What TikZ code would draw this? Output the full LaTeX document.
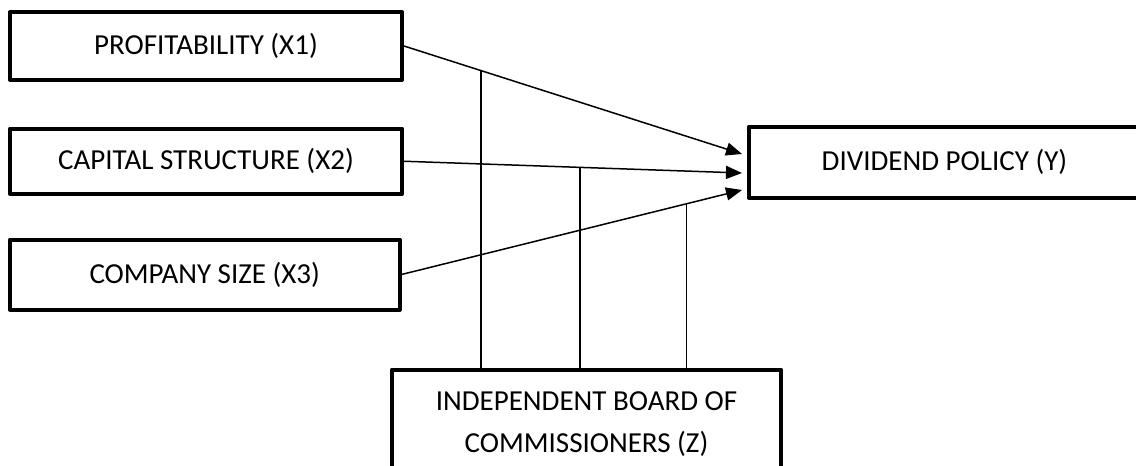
\documentclass[tikz,border=0pt]{standalone}
\usepackage{fontspec}
\setmainfont{Carlito}
\usetikzlibrary{arrows.meta}
\begin{document}
\begin{tikzpicture}[x=1pt,y=-1pt,line join=round,
	box/.style={draw,line width=4pt,inner sep=0pt,align=center,font=\fontsize{29}{42}\selectfont},
	link/.style={line width=1.5pt},
	arr/.style={link,-{Triangle[length=16pt,width=13pt]}}]
		%==Khung hình
		\clip (0,0) rectangle (1136,466);
		%==Các hộp
		\node[box,minimum width=392pt,minimum height=68pt] (X1) at (206,46) {PROFITABILITY (X1)};
		\node[box,minimum width=392pt,minimum height=65.5pt] (X2) at (206,161.25) {CAPITAL STRUCTURE (X2)};
		\node[box,minimum width=389.5pt,minimum height=70pt] (X3) at (204.75,274.5) {COMPANY SIZE (X3)};
		\node[box,minimum width=391pt,minimum height=71.5pt] (Y) at (944.5,162.25) {DIVIDEND POLICY (Y)};
		\node[box,minimum width=389pt,minimum height=108.5pt] (Z) at (586.5,423.75) {INDEPENDENT BOARD OF\\COMMISSIONERS (Z)};
		%==Mũi tên
		\coordinate (T1) at (742,154);
		\coordinate (T2) at (742,173);
		\coordinate (T3) at (742,190);
		\draw[arr] (X1.east)--coordinate[pos=0.228](M1) (T1);
		\draw[arr] (X2.east)--coordinate[pos=0.521](M2) (T2);
		\draw[arr] (X3.east)--coordinate[pos=0.837](M3) (T3);
		\foreach \m in {M1,M2,M3}\draw[link] (\m)--(\m|-Z.north);
		\end{tikzpicture}
\end{document}
